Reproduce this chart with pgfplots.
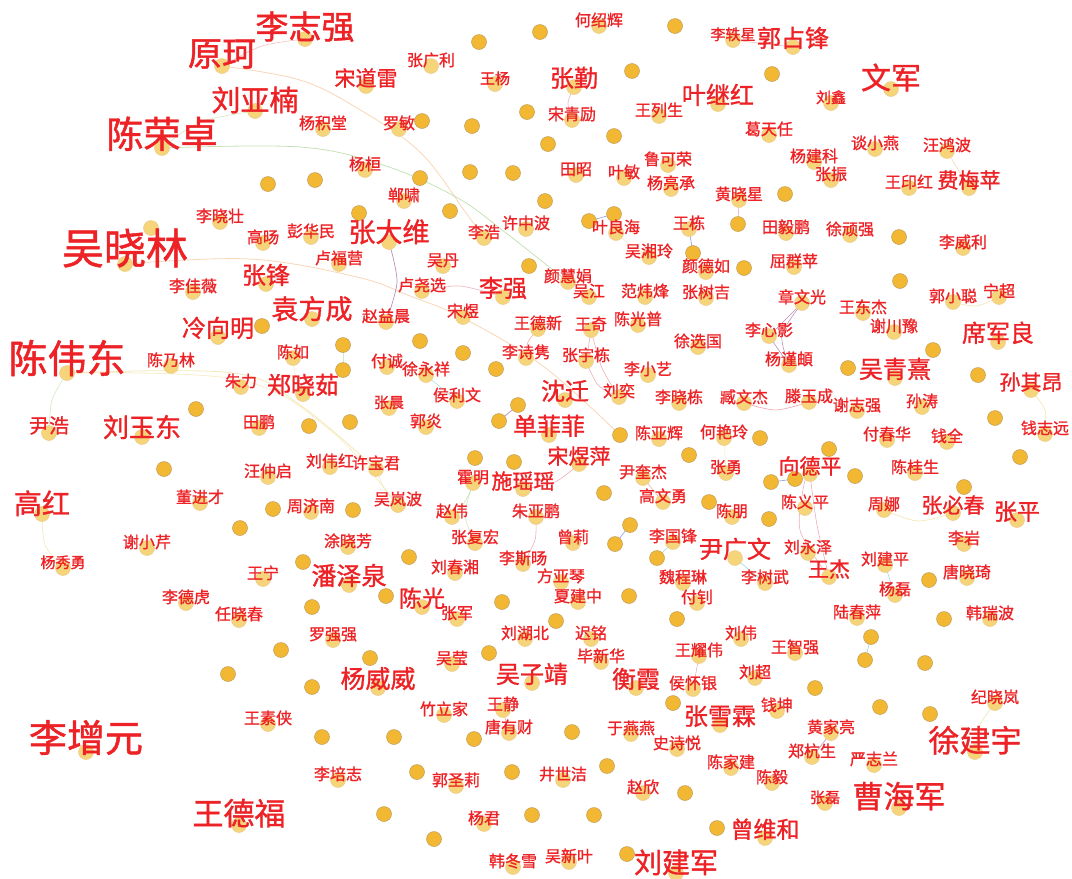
\documentclass[border=0pt]{standalone}
\usepackage{fontspec}
\setmainfont{Noto Sans CJK SC}[FakeBold=1.2]
\usepackage{pgfplots}
\usepackage{pgfplotstable}
\pgfplotsset{compat=1.18}

\definecolor{labelred}{RGB}{236,34,38}
\definecolor{nodefill}{RGB}{242,184,52}
\definecolor{nodeedge}{RGB}{190,158,92}
\definecolor{palefill}{RGB}{245,212,122}
\definecolor{paleedge}{RGB}{236,204,140}
\definecolor{eorange}{RGB}{246,196,150}
\definecolor{epink}{RGB}{230,140,150}
\definecolor{egreen}{RGB}{184,218,164}
\definecolor{eyellow}{RGB}{240,226,166}
\definecolor{eblue}{RGB}{112,132,212}
\definecolor{eteal}{RGB}{120,200,200}
\definecolor{epurple}{RGB}{160,96,150}

% labelled nodes: x y (pixels, y down), font size, name
\pgfplotstableread{
x y fs name
305 39 33 李志强
222 66 34 原珂
255 111 29 刘亚楠
323 129 16 杨积堂
162 148 37 陈荣卓
220 222 16 李晓壮
125 264 42 吴晓林
263 243 16 高旸
311 237 16 彭华民
339 264 16 卢福营
266 284 24 张锋
193 292 16 李佳薇
599 26 16 何绍辉
431 66 16 张广利
366 86 21 宋道雷
495 84 15 王杨
574 87 24 张勤
572 120 16 宋青励
659 116 16 王列生
399 129 16 罗敏
365 170 16 杨桓
576 175 16 田昭
624 178 16 叶敏
668 165 16 鲁可荣
671 189 16 杨亮承
404 201 16 郸啸
389 242 27 张大维
484 238 16 李浩
526 229 16 许中波
616 233 16 叶良海
689 229 16 王栋
649 257 16 吴湘玲
443 266 16 吴丹
422 291 16 卢尧选
503 297 24 李强
568 282 16 颜慧娟
589 297 16 吴江
645 297 16 范炜烽
706 272 16 颜德如
706 298 16 张树吉
733 40 15 李轶星
793 47 24 郭占锋
718 104 24 叶继红
891 89 30 文军
831 103 15 刘鑫
769 135 16 葛天任
875 149 16 谈小燕
947 151 16 汪鸿波
814 162 16 杨建科
831 180 16 张振
909 188 16 王印红
969 188 21 费梅苹
739 200 16 黄晓星
786 233 16 田毅鹏
850 235 16 徐顽强
963 248 16 李威利
794 267 16 屈群苹
802 303 16 章文光
953 302 16 郭小聪
999 297 16 宁超
218 337 24 冷向明
312 319 27 袁方成
67 373 39 陈伟东
171 366 16 陈乃林
293 358 16 陈如
241 387 16 朱力
303 394 24 郑晓茹
49 433 20 尹浩
142 437 26 刘玉东
259 428 16 田鹏
268 477 16 汪仲启
330 467 16 刘伟红
376 469 16 许宝君
42 514 28 高红
200 503 16 董进才
311 512 16 周济南
147 548 16 谢小芹
348 547 16 涂晓芳
63 568 15 杨秀勇
263 579 16 王宁
349 585 25 潘泽泉
386 322 16 赵益晨
463 317 16 宋煜
538 329 16 王德新
591 330 16 王奇
638 325 16 陈光普
698 347 16 徐选国
526 358 16 李诗隽
586 361 16 张宇栋
387 367 16 付诚
426 375 16 徐永祥
648 375 16 李小艺
565 400 24 沈迁
619 397 16 刘奕
457 401 16 侯利文
389 408 15 张晨
426 427 16 郭炎
549 435 24 单菲菲
679 403 16 李晓栋
659 439 16 陈亚辉
724 438 16 何艳玲
579 464 21 宋煜萍
643 478 16 尹奎杰
473 483 16 霍明
523 489 21 施瑶瑶
398 505 16 吴岚波
663 502 16 高文勇
452 517 16 赵伟
536 517 16 朱亚鹏
475 543 16 张复宏
573 543 16 曾莉
673 542 16 李国锋
523 564 16 李斯旸
455 573 16 刘春湘
561 582 16 方亚琴
683 583 16 魏程琳
863 313 16 王东杰
769 336 16 李心影
894 332 16 谢川豫
998 342 24 席军良
789 365 16 杨谨頔
895 378 24 吴青熹
1031 390 21 孙其昂
744 403 16 臧文杰
809 402 16 滕玉成
857 411 16 谢志强
922 407 16 孙涛
1045 434 16 钱志远
887 440 16 付春华
947 442 16 钱全
726 473 16 张勇
810 474 21 向德平
915 473 16 陈桂生
732 517 16 陈朋
805 508 16 陈义平
884 510 16 周娜
953 513 21 张必春
1017 520 23 张平
964 544 16 李岩
735 558 24 尹广文
808 553 16 刘永泽
885 565 16 刘建平
829 577 21 王杰
765 583 16 李树武
967 578 16 唐晓琦
895 595 16 杨磊
186 603 16 李德虎
239 620 16 任晓春
333 640 16 罗强强
268 724 16 王素侠
86 752 38 李增元
338 780 16 李培志
239 825 31 王德福
378 688 25 杨威威
422 607 23 陈光
457 619 16 张军
578 602 16 夏建中
697 603 16 付钊
525 639 16 刘湖北
591 639 16 迟铭
452 664 16 吴莹
601 662 16 毕新华
699 656 16 王耀伟
532 683 24 吴子靖
636 688 24 衡霞
693 689 16 侯怀银
444 715 16 竹立家
503 710 16 王静
720 725 24 张雪霖
509 733 16 唐有财
631 734 16 于燕燕
677 749 16 史诗悦
456 786 16 郭圣莉
563 780 16 井世洁
643 793 16 赵欣
484 824 16 杨君
513 867 16 韩冬雪
569 862 16 吴新叶
676 873 28 刘建军
857 618 16 陆春萍
990 619 16 韩瑞波
741 639 16 刘伟
795 653 16 王智强
755 678 16 刘超
777 711 16 钱坤
995 703 16 纪晓岚
831 733 16 黄家亮
975 752 31 徐建宇
812 757 16 郑杭生
731 768 16 陈家建
874 765 16 严志兰
772 783 16 陈毅
825 803 15 张磊
899 808 31 曹海军
765 838 23 曾维和
}\labeled

% nodes without a label
\pgfplotstableread{
x y
268 184
315 180
540 32
479 42
675 26
632 71
527 112
422 121
472 126
548 144
614 136
420 178
470 172
513 173
545 201
450 211
359 213
589 221
614 214
693 253
529 266
772 74
785 194
738 224
899 237
744 268
900 281
262 326
343 345
343 370
196 409
309 426
350 422
164 469
273 509
353 510
240 528
303 562
420 341
463 353
496 369
518 405
499 421
620 435
475 458
514 462
689 455
604 493
709 502
630 525
615 544
657 558
409 557
933 350
848 368
978 375
995 418
760 438
829 449
1020 457
795 479
771 482
855 476
964 487
769 519
929 580
312 607
281 650
228 674
312 687
322 737
386 596
502 602
629 596
556 621
677 619
489 653
370 658
673 703
394 737
474 739
572 732
417 772
512 772
607 766
685 793
384 814
532 815
594 815
434 839
627 854
944 619
871 637
865 660
925 663
815 688
880 707
930 714
717 828
}\plain

\begin{document}
\begin{tikzpicture}
\begin{axis}[
  name=ax,
  scale only axis,
  width=1072pt, height=879pt,
  xmin=0, xmax=1072, ymin=0, ymax=879,
  y dir=reverse,
  hide axis,
  clip=false,
]
% edges
\addplot[eorange, line width=0.8pt, opacity=0.7, smooth, tension=0.6] coordinates {(222,66) (300,80) (357,108) (420,152) (466,213) (484,238)};
\addplot[epink, line width=0.7pt, opacity=0.5, smooth] coordinates {(222,66) (262,46) (305,39)};
\addplot[egreen, line width=0.7pt, opacity=0.6, smooth] coordinates {(255,111) (200,122) (162,148)};
\addplot[egreen, line width=0.8pt, opacity=0.8, smooth, tension=0.6] coordinates {(162,148) (300,147) (383,165) (456,197) (506,233) (568,282)};
\addplot[eorange, line width=0.8pt, opacity=0.7, smooth, tension=0.6] coordinates {(125,264) (250,259) (357,277) (410,296) (463,318) (543,366) (620,435)};
\addplot[epink, line width=0.7pt, opacity=0.6, smooth] coordinates {(422,291) (460,286) (503,297)};
\addplot[epurple, line width=0.7pt, opacity=0.7, smooth] coordinates {(389,242) (397,282) (386,322)};
\addplot[eyellow, line width=0.8pt, opacity=0.8, smooth, tension=0.6] coordinates {(67,373) (233,373) (300,405) (376,469)};
\addplot[eyellow, line width=0.8pt, opacity=0.6, smooth, tension=0.6] coordinates {(67,373) (240,380) (330,430) (398,505)};
\addplot[egreen, line width=0.7pt, opacity=0.6, smooth] coordinates {(67,373) (52,400) (49,433)};
\addplot[eyellow, line width=0.7pt, opacity=0.7, smooth] coordinates {(42,514) (45,545) (63,568)};
\addplot[eyellow, line width=0.7pt, opacity=0.7, smooth] coordinates {(376,469) (385,490) (398,505)};
\addplot[eyellow, line width=0.6pt, opacity=0.6, smooth] coordinates {(293,358) (296,378) (303,394)};
\addplot[egreen, line width=0.6pt, opacity=0.6] coordinates {(343,345) (343,370)};
\addplot[eteal, line width=0.6pt, opacity=0.6] coordinates {(426,375) (457,401)};
\addplot[epurple, line width=0.7pt, opacity=0.7] coordinates {(518,405) (499,421)};
\addplot[epink, line width=0.6pt, opacity=0.7, smooth] coordinates {(538,329) (528,342) (526,358)};
\addplot[epink, line width=0.6pt, opacity=0.7, smooth] coordinates {(591,330) (602,368) (619,397)};
\addplot[epink, line width=0.6pt, opacity=0.7, smooth] coordinates {(591,330) (588,350) (586,361)};
\addplot[epink, line width=0.6pt, opacity=0.7, smooth] coordinates {(586,361) (598,385) (619,397)};
\addplot[epink, line width=0.6pt, opacity=0.7, smooth] coordinates {(579,464) (555,482) (523,489)};
\addplot[egreen, line width=0.6pt, opacity=0.7, smooth] coordinates {(452,517) (466,500) (473,483)};
\addplot[egreen, line width=0.6pt, opacity=0.7, smooth] coordinates {(473,483) (465,515) (475,543)};
\addplot[epink, line width=0.6pt, opacity=0.7, smooth] coordinates {(536,517) (535,540) (523,564)};
\addplot[epink, line width=0.6pt, opacity=0.7] coordinates {(643,478) (663,502)};
\addplot[eblue, line width=0.6pt, opacity=0.8] coordinates {(630,525) (615,544)};
\addplot[eteal, line width=0.6pt, opacity=0.7] coordinates {(673,542) (657,558)};
\addplot[epink, line width=0.6pt, opacity=0.7, smooth] coordinates {(572,120) (568,103) (574,87)};
\addplot[eblue, line width=0.6pt, opacity=0.8] coordinates {(589,221) (614,214)};
\addplot[eblue, line width=0.6pt, opacity=0.8] coordinates {(689,229) (693,253)};
\addplot[eyellow, line width=0.6pt, opacity=0.6, smooth] coordinates {(616,233) (632,246) (649,257)};
\addplot[epink, line width=0.6pt, opacity=0.7] coordinates {(739,200) (738,224)};
\addplot[epink, line width=0.6pt, opacity=0.6] coordinates {(733,40) (793,47)};
\addplot[eorange, line width=0.6pt, opacity=0.7] coordinates {(947,151) (969,188)};
\addplot[egreen, line width=0.6pt, opacity=0.5] coordinates {(668,165) (671,189)};
\addplot[epurple, line width=0.6pt, opacity=0.7] coordinates {(802,303) (769,336)};
\addplot[epurple, line width=0.6pt, opacity=0.7, smooth] coordinates {(802,303) (782,335) (789,365)};
\addplot[epurple, line width=0.6pt, opacity=0.7] coordinates {(769,336) (789,365)};
\addplot[epink, line width=0.7pt, opacity=0.7, smooth] coordinates {(744,403) (776,410) (809,402)};
\addplot[eyellow, line width=0.7pt, opacity=0.8, smooth] coordinates {(953,302) (976,306) (999,297)};
\addplot[eyellow, line width=0.7pt, opacity=0.8, smooth] coordinates {(1031,390) (1045,410) (1045,434)};
\addplot[eyellow, line width=0.6pt, opacity=0.6] coordinates {(724,438) (726,473)};
\addplot[eblue, line width=0.6pt, opacity=0.8] coordinates {(771,482) (795,479)};
\addplot[epink, line width=0.6pt, opacity=0.7, smooth] coordinates {(805,480) (800,530) (829,577)};
\addplot[epink, line width=0.6pt, opacity=0.7, smooth] coordinates {(810,474) (817,525) (829,577)};
\addplot[eyellow, line width=0.7pt, opacity=0.8, smooth] coordinates {(884,510) (918,521) (953,513)};
\addplot[eteal, line width=0.6pt, opacity=0.7] coordinates {(885,565) (895,595)};
\addplot[eteal, line width=0.6pt, opacity=0.7] coordinates {(735,558) (765,583)};
\addplot[epink, line width=0.6pt, opacity=0.7] coordinates {(699,656) (693,689)};
\addplot[epurple, line width=0.6pt, opacity=0.7] coordinates {(831,733) (812,757)};
\addplot[eyellow, line width=0.7pt, opacity=0.8, smooth] coordinates {(995,703) (980,725) (975,752)};
\addplot[epink, line width=0.6pt, opacity=0.7] coordinates {(503,710) (509,733)};
\addplot[eteal, line width=0.6pt, opacity=0.7] coordinates {(871,637) (865,660)};

% plain nodes
\addplot[only marks, mark=*, mark size=7.5,
  mark options={fill=nodefill, draw=nodeedge, line width=0.5pt}]
  table[x=x, y=y] {\plain};
% faded node without a label
\addplot[only marks, mark=*, mark size=7.5,
  mark options={fill=palefill, draw=paleedge, line width=0.5pt}]
  coordinates {(151,228)};
% labelled nodes
\addplot[only marks, mark=*, mark size=7.5,
  mark options={fill=palefill, draw=paleedge, line width=0.5pt},
  point meta=explicit symbolic,
  visualization depends on={\thisrow{fs} \as \labsize},
  nodes near coords,
  nodes near coords style={
    font=\fontsize{\labsize pt}{\labsize pt}\selectfont, text=labelred,
    anchor=base, inner sep=0pt},
  ] table[x=x, y=y, meta=name] {\labeled};
\end{axis}
\pgfresetboundingbox
\path (ax.south west) rectangle (ax.north east);
\end{tikzpicture}
\end{document}
